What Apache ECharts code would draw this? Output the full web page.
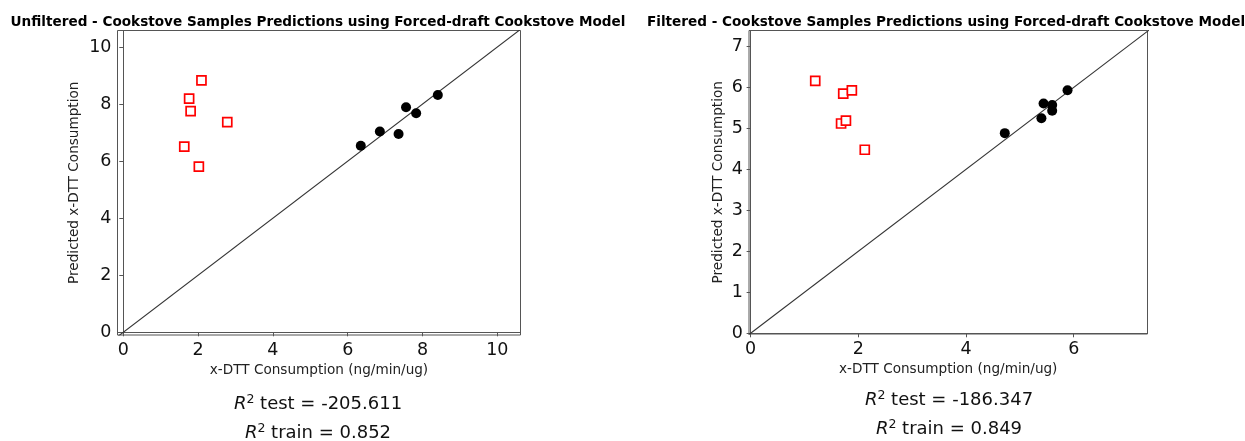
<!DOCTYPE html>
<html>
<head>
<meta charset="utf-8">
<script src="https://cdn.jsdelivr.net/npm/echarts@6/dist/echarts.min.js"></script>
<style>
html,body{margin:0;padding:0;background:#fff;}
#c{width:1245px;height:441px;}
</style>
</head>
<body>
<div id="c"></div>
<script>
// ---- Data ----
const leftTestX  = [2.09, 1.76, 1.80, 2.78, 1.63, 2.02];
const leftTestY  = [8.83, 8.19, 7.75, 7.37, 6.51, 5.81];
const leftTrainX = [6.35, 6.86, 7.36, 7.56, 7.83, 8.41];
const leftTrainY = [6.54, 7.04, 6.95, 7.89, 7.68, 8.32];

const rightTestX  = [1.20, 1.72, 1.88, 1.68, 1.77, 2.12];
const rightTestY  = [6.16, 5.85, 5.93, 5.12, 5.19, 4.48];
const rightTrainX = [4.72, 5.40, 5.44, 5.60, 5.60, 5.885];
const rightTrainY = [4.885, 5.25, 5.61, 5.57, 5.43, 5.93];

const identityLine = [-1, 12];

const leftXRange  = [-0.155, 10.62];
const leftYRange  = [-0.095, 10.58];
const rightXRange = [-0.03, 7.37];
const rightYRange = [-0.017, 7.39];

const leftXTicks  = [0, 2, 4, 6, 8, 10];
const leftYTicks  = [0, 2, 4, 6, 8, 10];
const rightXTicks = [0, 2, 4, 6];
const rightYTicks = [0, 1, 2, 3, 4, 5, 6, 7];

const titles = [
  'Unfiltered - Cookstove Samples Predictions using Forced-draft Cookstove Model',
  'Filtered - Cookstove Samples Predictions using Forced-draft Cookstove Model'
];
const xName = 'x-DTT Consumption (ng/min/ug)';
const yName = 'Predicted x-DTT Consumption';
const r2Test  = ['-205.611', '-186.347'];
const r2Train = ['0.852', '0.849'];

// ---- Build ----
const FONT = 'DejaVu Sans';
const zip = (a, b) => a.map((v, i) => [v, b[i]]);

function xAxis(idx, range, ticks, gap) {
  return {
    type: 'value', gridIndex: idx, min: range[0], max: range[1],
    name: xName, nameLocation: 'middle', nameGap: gap,
    nameTextStyle: {fontFamily: FONT, fontSize: 13.6, color: '#222'},
    axisLine: {show: true, lineStyle: {color: '#555', width: 1}},
    axisTick: {show: true, length: 4, lineStyle: {color: '#555'}, customValues: ticks},
    axisLabel: {fontFamily: FONT, fontSize: 17.5, color: '#111', margin: 6, customValues: ticks},
    splitLine: {show: false}
  };
}
function yAxis(idx, range, ticks, gap) {
  return {
    type: 'value', gridIndex: idx, min: range[0], max: range[1],
    name: yName, nameLocation: 'middle', nameGap: gap, nameRotate: 90,
    nameTextStyle: {fontFamily: FONT, fontSize: 13.6, color: '#222'},
    axisLine: {show: true, lineStyle: {color: '#555', width: 1}},
    axisTick: {show: true, length: 4, lineStyle: {color: '#555'}, customValues: ticks},
    axisLabel: {fontFamily: FONT, fontSize: 17.5, color: '#111', margin: 6, customValues: ticks},
    splitLine: {show: false}
  };
}
function testSeries(i, xs, ys) {
  return {
    type: 'scatter', xAxisIndex: i, yAxisIndex: i, data: zip(xs, ys),
    symbol: 'rect', symbolSize: 9,
    itemStyle: {color: '#fff', borderColor: '#ff0000', borderWidth: 1.7, opacity: 1},
    silent: true, z: 3
  };
}
function trainSeries(i, xs, ys) {
  return {
    type: 'scatter', xAxisIndex: i, yAxisIndex: i, data: zip(xs, ys),
    symbol: 'circle', symbolSize: 10,
    itemStyle: {color: '#000', opacity: 1}, silent: true, z: 4
  };
}
function diagSeries(i) {
  return {
    type: 'line', xAxisIndex: i, yAxisIndex: i, data: zip(identityLine, identityLine),
    showSymbol: false, clip: true, silent: true,
    lineStyle: {color: '#333', width: 1.1}, z: 2
  };
}
function r2Title(label, val, cx, cy) {
  return {
    text: '{i|R}{s|2} ' + label + ' = ' + val,
    left: cx - 5, top: cy - 15, textAlign: 'center',
    textStyle: {
      fontFamily: FONT, fontSize: 18, fontWeight: 'normal', color: '#111',
      rich: {
        i: {fontFamily: FONT, fontSize: 18, fontStyle: 'italic', color: '#111'},
        s: {fontFamily: FONT, fontSize: 12.5, color: '#111', verticalAlign: 'top', padding: [0, 0, 9, 0]}
      }
    }
  };
}

const grids = [
  {left: 117.5, top: 30.5, width: 403, height: 304.5},
  {left: 749, top: 30.5, width: 398.5, height: 303.5}
];

const option = {
  animation: false,
  backgroundColor: '#fff',
  title: [
    {text: titles[0], left: 313, top: 10, textAlign: 'center',
     textStyle: {fontFamily: FONT, fontSize: 13.6, fontWeight: 'bold', color: '#000'}},
    {text: titles[1], left: 941, top: 10, textAlign: 'center',
     textStyle: {fontFamily: FONT, fontSize: 13.6, fontWeight: 'bold', color: '#000'}},
    r2Title('test', r2Test[0], 318, 403),
    r2Title('train', r2Train[0], 318, 432),
    r2Title('test', r2Test[1], 949, 399),
    r2Title('train', r2Train[1], 949, 428)
  ],
  grid: grids.map(g => Object.assign({show: true, borderColor: '#555', borderWidth: 1, backgroundColor: 'transparent', containLabel: false}, g)),
  xAxis: [xAxis(0, leftXRange, leftXTicks, 26), xAxis(1, rightXRange, rightXTicks, 26)],
  yAxis: [yAxis(0, leftYRange, leftYTicks, 36), yAxis(1, rightYRange, rightYTicks, 24)],
  series: [
    diagSeries(0), testSeries(0, leftTestX, leftTestY), trainSeries(0, leftTrainX, leftTrainY),
    diagSeries(1), testSeries(1, rightTestX, rightTestY), trainSeries(1, rightTrainX, rightTrainY)
  ]
};

const chart = echarts.init(document.getElementById('c'), null, {renderer: 'canvas'});
chart.setOption(option);
</script>
</body>
</html>
